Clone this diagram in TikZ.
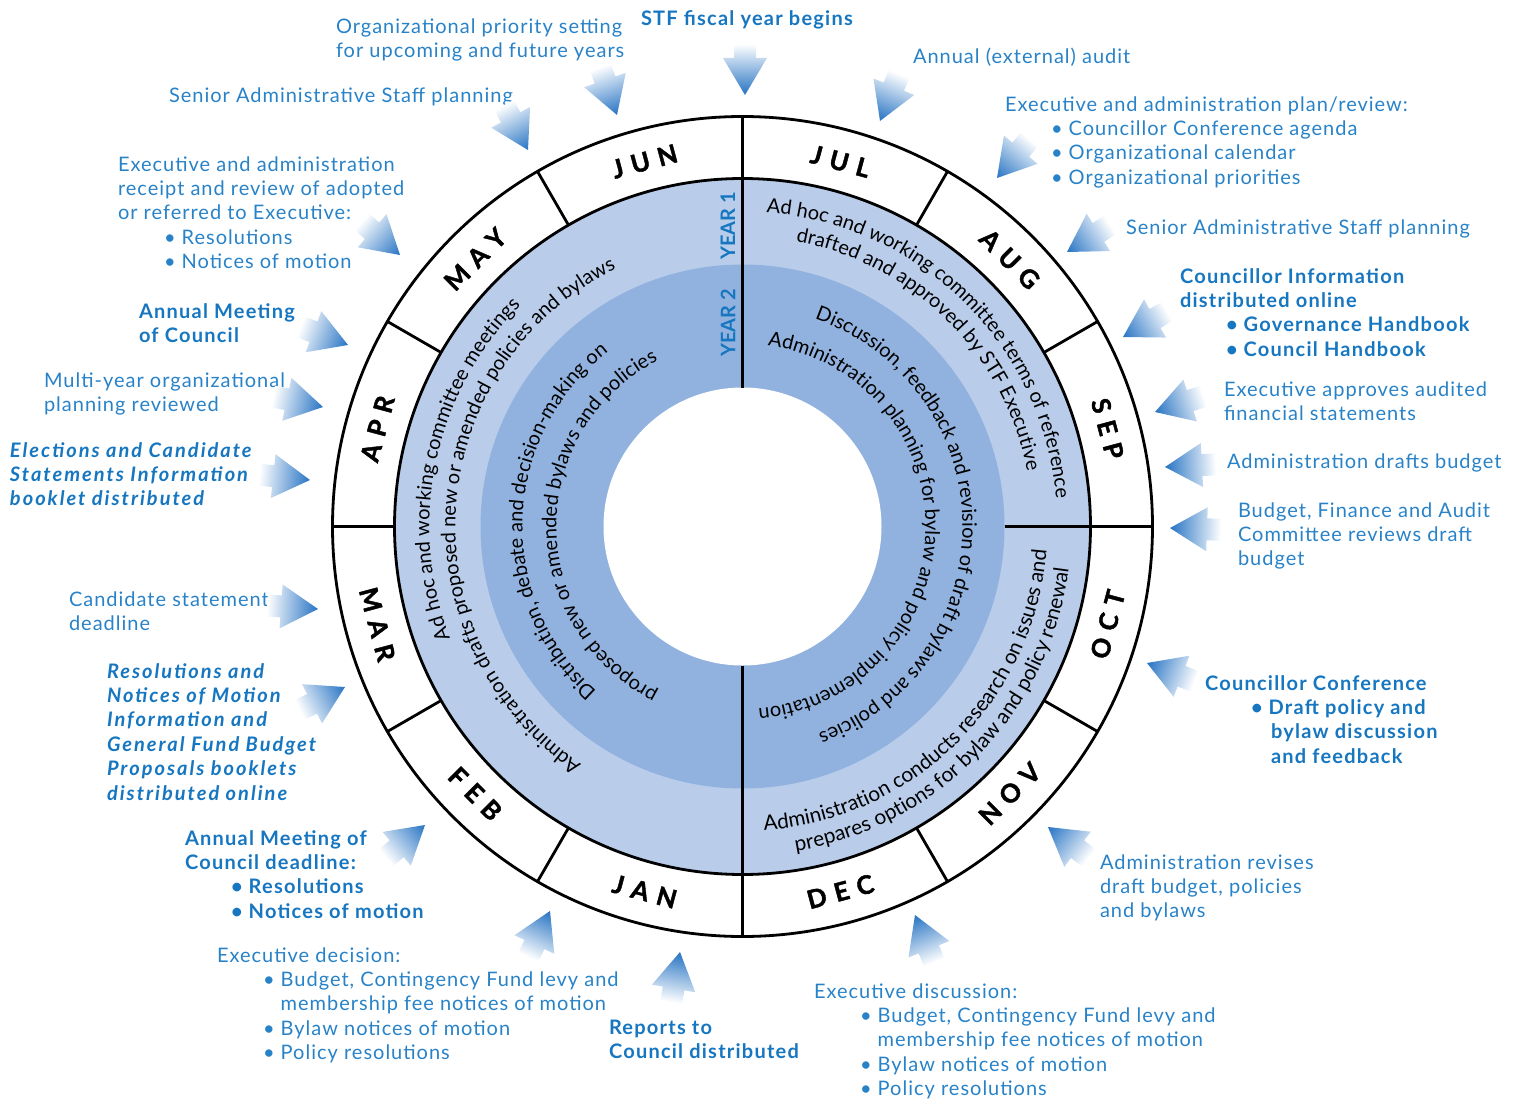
\documentclass[tikz,border=0pt]{standalone}
\usepackage{fontspec}
\setmainfont{Lato}
\newfontfamily\labfam{Lato}[LetterSpace=5]
\newfontfamily\labbfam{Lato}[LetterSpace=6.2]
\newfontfamily\labifam{Lato}[LetterSpace=10]
\newfontfamily\monthfam{Lato}[FakeBold=1.6]
\newfontfamily\cvfam{Lato}
\usetikzlibrary{decorations.text}
\definecolor{textblue}{RGB}{40,130,200}
\definecolor{boldblue}{RGB}{22,118,192}
\definecolor{lightfill}{RGB}{185,205,235}
\definecolor{medfill}{RGB}{145,178,222}
\definecolor{arrowblue}{RGB}{38,115,195}
\newcommand\cvfont{\cvfam\fontsize{10}{12}\selectfont}
\newcommand\cvfontb{\cvfam\fontsize{10.4}{12}\selectfont}
\newcommand\msp{\hspace{4.2pt}}
\newcommand\bul{\hspace*{23pt}•\ }
\newcommand\cont{\hspace*{23pt}\phantom{•\ }}
\newcommand\sarrow[3]{%
  \coordinate (#1) at #2;
  \begin{scope}[transform canvas={shift={(#1)}, rotate=#3}]
    \shade[farrow] (0,0) -- (-37,22) -- (-37,11) -- (-51,11) -- (-51,-11) -- (-37,-11) -- (-37,-22) -- cycle;
  \end{scope}}
\newcommand\ctext[5]{% text, radius, start, end, font
  \path[decorate, decoration={text along path, text align=center, text color=black, text={|#5|#1}}]
    (#3:#2) arc[start angle=#3, end angle=#4, radius=#2];}
\tikzset{
  lab/.style={anchor=north west, inner sep=0pt, outer sep=0pt, align=left, text=textblue, font=\labfam\fontsize{10}{12.2}\selectfont},
  labb/.style={lab, text=boldblue, font=\labbfam\fontsize{10}{12.2}\selectfont\bfseries},
  labi/.style={lab, text=boldblue, font=\labifam\fontsize{10}{12.2}\selectfont\bfseries\itshape},
  ring/.style={line width=1.4pt, draw=black},
  month/.style={font=\monthfam\fontsize{12.8}{14}\selectfont\bfseries, inner sep=0pt, text=black},
  yearlab/.style={font=\fontsize{10}{12}\selectfont\bfseries, text=boldblue, rotate=90, inner sep=0pt},
  farrow/.style={left color=white, right color=arrowblue}
}
\begin{document}
\begin{tikzpicture}[x=0.5pt, y=0.5pt]
\useasboundingbox (0,0) rectangle (1527,-1102);
\coordinate (C) at (742.5,-526.5);
\begin{scope}[shift={(C)}]
  \fill[lightfill] (0,0) circle[radius=348];
  \fill[medfill] (0,0) circle[radius=262];
  \fill[white] (0,0) circle[radius=139];
  \draw[ring] (0,0) circle[radius=410];
  \draw[ring] (0,0) circle[radius=348];
  \foreach \a in {60,30,-30,-60,-120,-150,180,150,120} \draw[ring] (\a:348) -- (\a:410);
  \draw[ring] (0:262) -- (0:410);
  \draw[ring] (90:139) -- (90:410);
  \draw[ring] (-90:139) -- (-90:410);
  % months
  \node[month, rotate=15]  (jun) at (105:378) {J\msp U\msp N};
  \node[month, rotate=-15] (jul) at (75:378) {J\msp U\msp L};
  \node[month, rotate=-45] (aug) at (45:378) {A\msp U\msp G};
  \node[month, rotate=-75] (sep) at (15:378) {S\msp E\msp P};
  \node[month, rotate=75]  (oct) at (-15:378) {O\msp C\msp T};
  \node[month, rotate=45]  (nov) at (-45:378) {N\msp O\msp V};
  \node[month, rotate=15]  (dec) at (-75:378) {D\msp E\msp C};
  \node[month, rotate=-15] (jan) at (-105:378) {J\msp A\msp N};
  \node[month, rotate=-45] (feb) at (-135:378) {F\msp E\msp B};
  \node[month, rotate=-75] (mar) at (-165:378) {M\msp A\msp R};
  \node[month, rotate=75]  (apr) at (165:378) {A\msp P\msp R};
  \node[month, rotate=45]  (may) at (135:378) {M\msp A\msp Y};
  % curved texts
  \ctext{Ad hoc and working committee meetings}{313}{250}{86}{\cvfont}
  \ctext{Administration drafts proposed new or amended policies and bylaws}{287}{266}{86}{\cvfont}
  \ctext{Distribution{,} debate and decision-making on}{220}{268}{88}{\cvfont}
  \ctext{proposed new or amended bylaws and policies}{186}{270}{90}{\cvfont}
  \ctext{Ad hoc and working committee terms of reference}{315}{135.4}{-44.6}{\cvfont}
  \ctext{drafted and approved by STF Executive}{290}{135.2}{-44.8}{\cvfont}
  \ctext{Discussion{,} feedback and revision of draft bylaws and policies}{220}{90.5}{-89.5}{\cvfont}
  \ctext{Administration planning for bylaw and policy implementation}{183}{88.5}{-91.5}{\cvfont}
  \ctext{Administration conducts research on issues and}{305}{-135.2}{44.8}{\cvfontb}
  \ctext{prepares options for bylaw and policy renewal}{329}{-134}{46}{\cvfontb}
\end{scope}
\node[yearlab] (y1) at (728,-226) {YEAR 1};
\node[yearlab] (y2) at (728,-323) {YEAR 2};
% labels
\node[lab] (l1) at (336,-16) {\strut Organizational priority setting\\for upcoming and future years};
\node[labb] (l2) at (641,-8) {\strut STF fiscal year begins};
\node[lab] (l3) at (913,-46) {\strut Annual (external) audit};
\node[lab] (l4) at (1005,-94) {\strut Executive and administration plan/review:\\\bul Councillor Conference agenda\\\bul Organizational calendar\\\bul Organizational priorities};
\node[lab] (l5) at (1126,-217) {\strut Senior Administrative Staff planning};
\node[labb] (l6) at (1180,-266) {\strut Councillor Information\\distributed online\\\bul Governance Handbook\\\bul Council Handbook};
\node[lab] (l7) at (1224,-379) {\strut Executive approves audited\\financial statements};
\node[lab] (l8) at (1227,-451) {\strut Administration drafts budget};
\node[lab] (l9) at (1238,-500) {\strut Budget, Finance and Audit\\Committee reviews draft\\budget};
\node[labb] (l10) at (1205,-673) {\strut Councillor Conference\\\bul Draft policy and\\\hspace*{33pt}bylaw discussion\\\hspace*{33pt}and feedback};
\node[lab] (l11) at (1100,-852) {\strut Administration revises\\draft budget, policies\\and bylaws};
\node[lab] (l12) at (814,-981) {\strut Executive discussion:\\\bul Budget, Contingency Fund levy and\\\cont membership fee notices of motion\\\bul Bylaw notices of motion\\\bul Policy resolutions};
\node[labb] (l13) at (609,-1017) {\strut Reports to\\Council distributed};
\node[lab] (l14) at (217,-945) {\strut Executive decision:\\\bul Budget, Contingency Fund levy and\\\cont membership fee notices of motion\\\bul Bylaw notices of motion\\\bul Policy resolutions};
\node[labb] (l15) at (185,-828) {\strut Annual Meeting of\\Council deadline:\\\bul Resolutions\\\bul Notices of motion};
\node[labi] (l16) at (107,-661) {\strut Resolutions and\\Notices of Motion\\Information and\\General Fund Budget\\Proposals booklets\\distributed online};
\node[lab] (l17) at (69,-589) {\strut Candidate statement\\deadline};
\node[labi] (l18) at (10,-440) {\strut Elections and Candidate\\Statements Information\\booklet distributed};
\node[lab] (l19) at (44,-370) {\strut Multi-year organizational\\planning reviewed};
\node[labb] (l20) at (139,-301) {\strut Annual Meeting\\of Council};
\node[lab] (l21) at (118,-154) {\strut Executive and administration\\receipt and review of adopted\\or referred to Executive:\\\bul Resolutions\\\bul Notices of motion};
\node[lab] (l22) at (169,-85) {\strut Senior Administrative Staff planning};
% arrows
\sarrow{a1}{(617,-115)}{-71}
\sarrow{a2}{(745,-95)}{-90}
\sarrow{a3}{(880,-121)}{-112}
\sarrow{a4}{(997,-178)}{-130}
\sarrow{a5}{(1067,-252)}{-148}
\sarrow{a6}{(1123,-337)}{-150}
\sarrow{a7}{(1155,-412)}{-162}
\sarrow{a8}{(1165,-467)}{-177}
\sarrow{a9}{(1170,-528)}{178}
\sarrow{a10}{(1147,-663)}{159}
\sarrow{a11}{(1048,-827)}{143}
\sarrow{a12}{(915,-915)}{112}
\sarrow{a13}{(680,-952)}{80}
\sarrow{a14}{(550,-911)}{65}
\sarrow{a15}{(425,-825)}{40}
\sarrow{a16}{(345,-687)}{27}
\sarrow{a17}{(318,-609)}{-4}
\sarrow{a18}{(310,-480)}{-6}
\sarrow{a19}{(323,-407)}{-12}
\sarrow{a20}{(348,-345)}{-21}
\sarrow{a21}{(400,-255)}{-41}
\sarrow{a22}{(528,-150)}{-62}
\end{tikzpicture}
\end{document}
